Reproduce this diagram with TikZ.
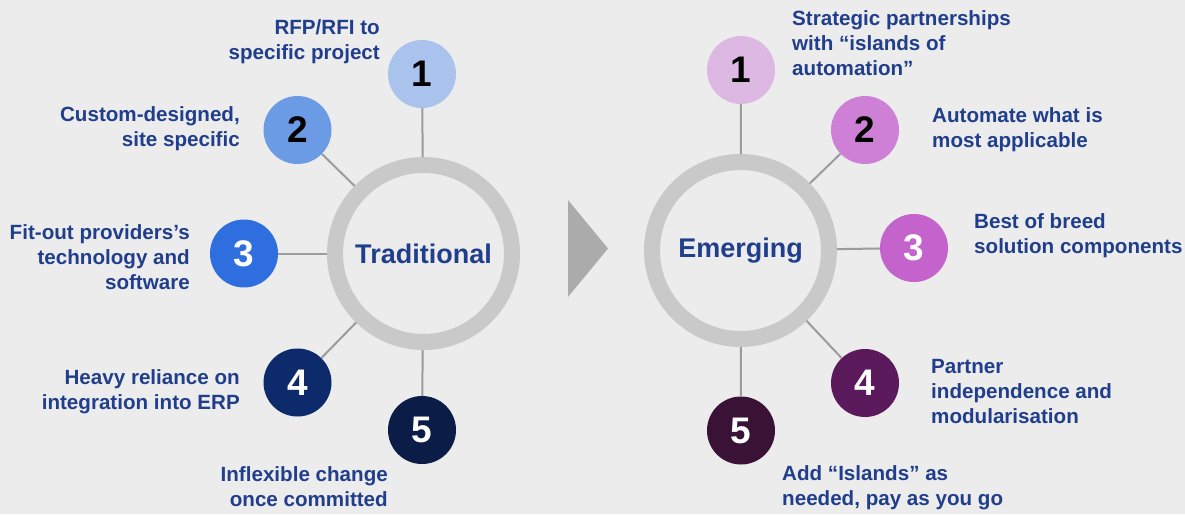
\documentclass[tikz,border=0pt]{standalone}
\usepackage{fontspec}
\setmainfont{Liberation Sans}
\definecolor{bg}{HTML}{EBECEB}
\definecolor{ringgray}{HTML}{C9C9C9}
\definecolor{linegray}{HTML}{9C9C9C}
\definecolor{trigray}{HTML}{ABABAB}
\definecolor{txt}{HTML}{213E8C}
\definecolor{lA}{HTML}{A9C3EC}
\definecolor{lB}{HTML}{6C9BE6}
\definecolor{lC}{HTML}{2E6EDF}
\definecolor{lD}{HTML}{0D2B6B}
\definecolor{lE}{HTML}{0B1D47}
\definecolor{rA}{HTML}{DDB8E3}
\definecolor{rB}{HTML}{CD80D5}
\definecolor{rC}{HTML}{C363CB}
\definecolor{rD}{HTML}{5B1A5C}
\definecolor{rE}{HTML}{3A1236}
\begin{document}
\begin{tikzpicture}[x=1pt,y=-1pt,
  ring/.style={circle,draw=ringgray,line width=16pt,minimum size=177pt,inner sep=0pt,
    text=txt,font=\bfseries\fontsize{27}{30}\selectfont},
  num/.style={circle,minimum size=68pt,inner sep=0pt,font=\bfseries\fontsize{37}{40}\selectfont},
  conn/.style={draw=linegray,line width=2pt},
  lbl/.style={text=txt,inner sep=0pt,font=\bfseries\fontsize{20.6}{25}\selectfont}]
\fill[bg] (0,0) rectangle (1185,514);
\useasboundingbox (0,0) rectangle (1185,514);
% left
\node[ring] (L) at (423.5,253.5) {Traditional};
\node[num,fill=lA,text=black] (L1) at (422,74) {1};
\node[num,fill=lB,text=black] (L2) at (297.5,130) {2};
\node[num,fill=lC,text=white] (L3) at (244,253.5) {3};
\node[num,fill=lD,text=white] (L4) at (297.5,382.5) {4};
\node[num,fill=lE,text=white] (L5) at (422,430) {5};
\foreach \i in {1,...,5} \draw[conn] (L\i) -- (L);
\node[lbl,anchor=east,align=right] (tL1) at (380,42) {RFP/RFI to\\specific project};
\node[lbl,anchor=east,align=right] (tL2) at (240,128.5) {Custom-designed,\\site specific};
\node[lbl,anchor=east,align=right] (tL3) at (190,257.5) {Fit-out providers’s\\technology and\\software};
\node[lbl,anchor=east,align=right] (tL4) at (240,391.5) {Heavy reliance on\\integration into ERP};
\node[lbl,anchor=east,align=right] (tL5) at (388,486.5) {Inflexible change\\once committed};
% arrow
\fill[trigray] (568,200) -- (608,248.5) -- (568,297) -- cycle;
% right
\node[ring] (R) at (740.5,250.5) {Emerging};
\node[num,fill=rA,text=black] (R1) at (741,70) {1};
\node[num,fill=rB,text=black] (R2) at (865,130) {2};
\node[num,fill=rC,text=white] (R3) at (914,248) {3};
\node[num,fill=rD,text=white] (R4) at (865,383) {4};
\node[num,fill=rE,text=white] (R5) at (741,430.5) {5};
\foreach \i in {1,...,5} \draw[conn] (R\i) -- (R);
\node[lbl,anchor=west,align=left] (tR1) at (792,43) {Strategic partnerships\\with “islands of\\automation”};
\node[lbl,anchor=west,align=left] (tR2) at (932,129.5) {Automate what is\\most applicable};
\node[lbl,anchor=west,align=left] (tR3) at (974,235.5) {Best of breed\\solution components};
\node[lbl,anchor=west,align=left] (tR4) at (931,392) {Partner\\independence and\\modularisation};
\node[lbl,anchor=west,align=left] (tR5) at (782,487.5) {Add “Islands” as\\needed, pay as you go};
\end{tikzpicture}
\end{document}
